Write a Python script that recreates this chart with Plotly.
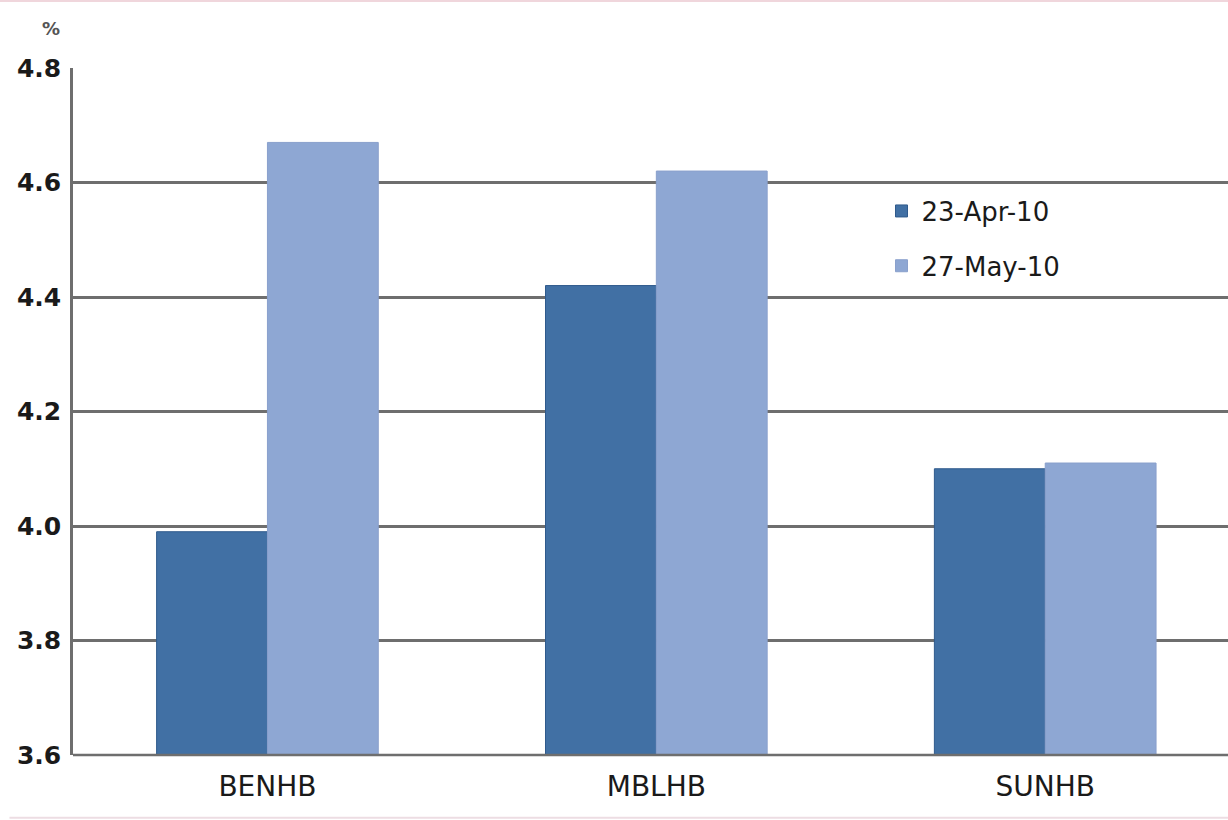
import plotly.graph_objects as go

# Yield by bank, two observation dates (%)
banks = ["BENHB", "MBLHB", "SUNHB"]
apr_23 = [3.99, 4.42, 4.10]
may_27 = [4.67, 4.62, 4.11]
y_ticks = [3.6, 3.8, 4.0, 4.2, 4.4, 4.6, 4.8]

dark_blue = "#4170a4"
light_blue = "#8ea7d3"
grid_col = "#6e6e6e"

fig = go.Figure()
fig.add_trace(go.Bar(
    x=banks, y=apr_23, name="23-Apr-10", legendgroup="a",
    marker=dict(color=dark_blue, line=dict(color="#2f5a8c", width=1)),
))
fig.add_trace(go.Bar(
    x=banks, y=may_27, name="27-May-10", legendgroup="b",
    marker=dict(color=light_blue, line=dict(color="#8aa0cc", width=1)),
))

fig.update_layout(
    width=1228, height=820,
    margin=dict(l=73, r=0, t=68, b=65),
    paper_bgcolor="white", plot_bgcolor="white",
    barmode="group", bargap=0.43, bargroupgap=0,
    font=dict(family="DejaVu Sans", color="#1a1a1a"),
    showlegend=True,
    legend=dict(
        x=0.70, y=0.826, xanchor="left", yanchor="top",
        font=dict(size=26, color="#1a1a1a"),
        bgcolor="rgba(255,255,255,0)",
        tracegroupgap=18, traceorder="grouped",
    ),
    xaxis=dict(
        range=[-0.5, 2.47],
        showgrid=False, showline=False, zeroline=False,
        ticks="", ticklabelstandoff=12,
        tickfont=dict(size=28, color="#1a1a1a"),
        fixedrange=True,
    ),
    yaxis=dict(
        range=[3.6, 4.8], tickvals=y_ticks,
        ticktext=[f"{v:.1f}" for v in y_ticks],
        showgrid=True, gridcolor=grid_col, gridwidth=2.5,
        showline=True, linecolor=grid_col, linewidth=2.5,
        zeroline=False, ticks="", ticklabelstandoff=4,
        tickfont=dict(size=25, color="#1a1a1a", weight="bold"),
        fixedrange=True,
    ),
    annotations=[dict(
        text="%", xref="paper", yref="paper", x=-0.019, y=1.057,
        xanchor="center", yanchor="middle", showarrow=False,
        font=dict(size=18, color="#555", weight="bold"),
    )],
    shapes=[
        # thin frame lines at top and bottom of the canvas
        dict(type="line", xref="paper", yref="paper",
             x0=-0.07, x1=1.0, y0=1.0975, y1=1.0975,
             line=dict(color="#f0d6dc", width=2)),
        dict(type="line", xref="paper", yref="paper",
             x0=-0.055, x1=1.0, y0=-0.0915, y1=-0.0915,
             line=dict(color="#eddde3", width=2)),
        # line along the category axis
        dict(type="line", xref="paper", yref="paper",
             x0=0, x1=1, y0=0, y1=0,
             line=dict(color=grid_col, width=2.5)),
    ],
)

fig.write_html("out.html")
